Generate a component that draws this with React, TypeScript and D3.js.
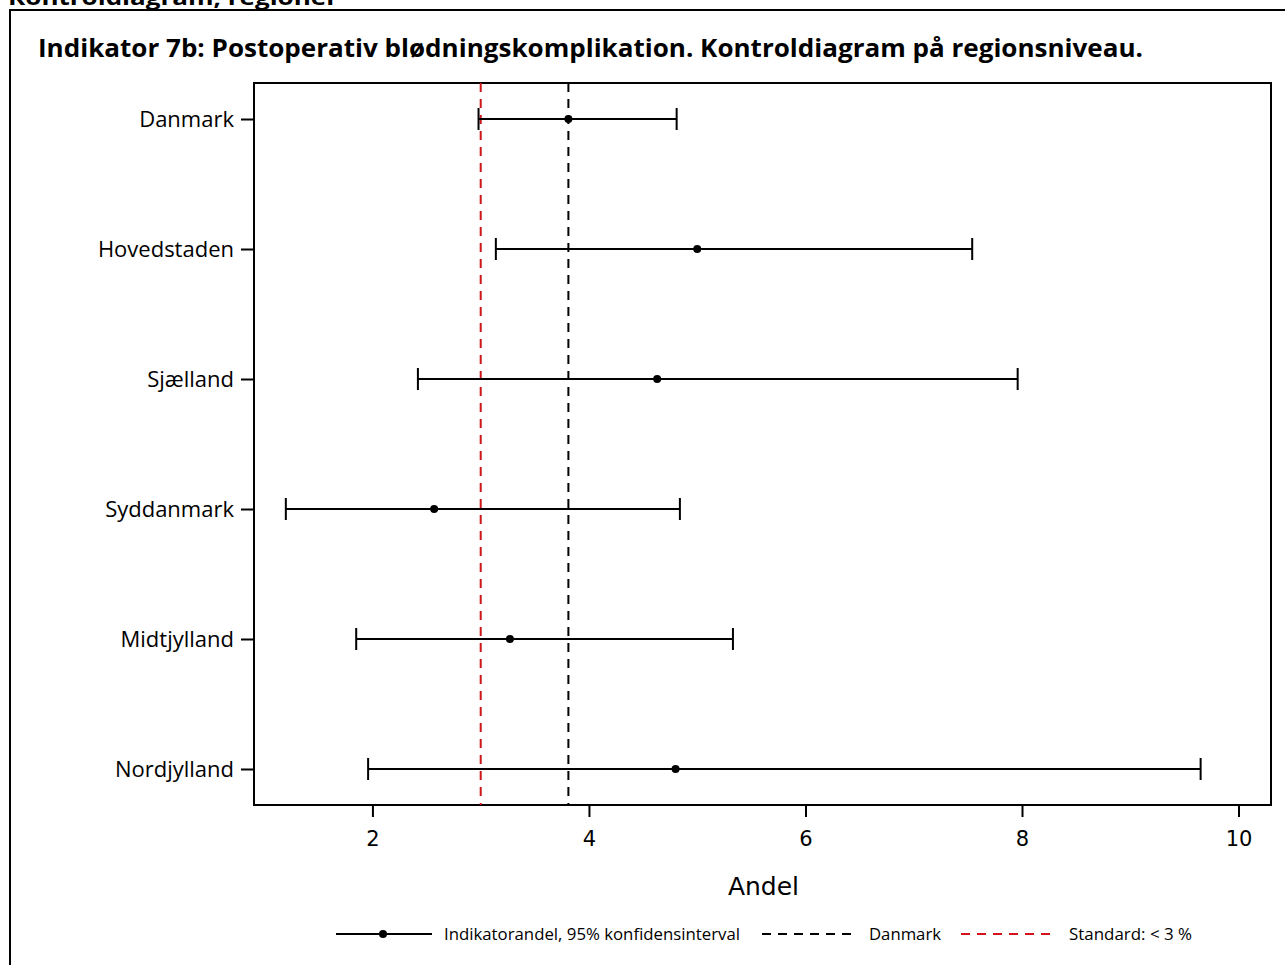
import React, { useEffect, useRef } from "react";
import * as d3 from "d3";

// Regions shown top to bottom
const regions = ["Danmark", "Hovedstaden", "Sjælland", "Syddanmark", "Midtjylland", "Nordjylland"];
// Indicator share (%) with 95% confidence limits
const shares = [3.81, 5.0, 4.63, 2.57, 3.27, 4.8];
const lowerCI = [2.98, 3.14, 2.42, 1.2, 1.85, 1.96];
const upperCI = [4.81, 7.54, 7.96, 4.84, 5.33, 9.65];
// Reference lines
const nationalLevel = 3.81;
const standardLevel = 3.0;
const xTicks = [2, 4, 6, 8, 10];

const W = 1285;
const H = 965;
const plot = { left: 254, right: 1271, top: 83, bottom: 805 };

export default function App() {
  const ref = useRef<SVGSVGElement | null>(null);

  useEffect(() => {
    const svg = d3.select(ref.current);
    svg.selectAll("*").remove();

    const x = d3.scaleLinear().domain([0.906, 10.3]).range([plot.left, plot.right]);
    const y = d3.scalePoint<string>().domain(regions).range([plot.top, plot.bottom]).padding(0.277);

    const body = "'Open Sans', 'DejaVu Sans', sans-serif";

    // Heading above the frame, partly clipped by the top edge
    svg.append("text")
      .attr("x", 8).attr("y", 5)
      .attr("font-family", body).attr("font-weight", 700).attr("font-size", 22)
      .attr("textLength", 330).attr("lengthAdjust", "spacingAndGlyphs")
      .text("Kontroldiagram, regioner");

    // Outer frame
    svg.append("rect")
      .attr("x", 10).attr("y", 10).attr("width", W + 10).attr("height", H + 10)
      .attr("fill", "none").attr("stroke", "#000").attr("stroke-width", 2);

    svg.append("text")
      .attr("x", 38).attr("y", 57)
      .attr("font-family", body).attr("font-weight", 700).attr("font-size", 25)
      .attr("textLength", 1105).attr("lengthAdjust", "spacingAndGlyphs")
      .text("Indikator 7b: Postoperativ blødningskomplikation. Kontroldiagram på regionsniveau.");

    // Plot frame
    svg.append("rect")
      .attr("x", plot.left).attr("y", plot.top)
      .attr("width", plot.right - plot.left).attr("height", plot.bottom - plot.top)
      .attr("fill", "none").attr("stroke", "#000").attr("stroke-width", 2);

    // Reference lines
    svg.append("line")
      .attr("x1", x(standardLevel)).attr("x2", x(standardLevel))
      .attr("y1", plot.top).attr("y2", plot.bottom)
      .attr("stroke", "#d0141a").attr("stroke-width", 2).attr("stroke-dasharray", "9,7");
    svg.append("line")
      .attr("x1", x(nationalLevel)).attr("x2", x(nationalLevel))
      .attr("y1", plot.top).attr("y2", plot.bottom)
      .attr("stroke", "#000").attr("stroke-width", 2).attr("stroke-dasharray", "9,7");

    // Error bars
    const g = svg.append("g");
    regions.forEach((r, i) => {
      const cy = y(r)!;
      g.append("line")
        .attr("x1", x(lowerCI[i])).attr("x2", x(upperCI[i]))
        .attr("y1", cy).attr("y2", cy)
        .attr("stroke", "#000").attr("stroke-width", 2);
      [lowerCI[i], upperCI[i]].forEach((v) => {
        g.append("line")
          .attr("x1", x(v)).attr("x2", x(v))
          .attr("y1", cy - 11).attr("y2", cy + 11)
          .attr("stroke", "#000").attr("stroke-width", 2);
      });
      g.append("circle").attr("cx", x(shares[i])).attr("cy", cy).attr("r", 4).attr("fill", "#000");
    });

    // Y axis
    const yAxis = d3.axisLeft(y).tickSize(13).tickPadding(7);
    const ya = svg.append("g").attr("transform", `translate(${plot.left},0)`).call(yAxis);
    ya.select(".domain").remove();
    ya.selectAll(".tick line").attr("stroke", "#000").attr("stroke-width", 2);
    ya.selectAll(".tick text")
      .attr("font-family", "'Open Sans', sans-serif").attr("font-size", 22).attr("fill", "#000");

    // X axis
    const xAxis = d3.axisBottom(x).tickValues(xTicks).tickFormat(d3.format("d")).tickSize(12).tickPadding(14);
    const xa = svg.append("g").attr("transform", `translate(0,${plot.bottom})`).call(xAxis);
    xa.select(".domain").remove();
    xa.selectAll(".tick line").attr("stroke", "#000").attr("stroke-width", 2);
    xa.selectAll(".tick text")
      .attr("font-family", "'DejaVu Sans', sans-serif").attr("font-size", 21).attr("fill", "#000");

    svg.append("text")
      .attr("x", (plot.left + plot.right) / 2 + 1).attr("y", 895)
      .attr("text-anchor", "middle")
      .attr("font-family", "'DejaVu Sans', sans-serif").attr("font-size", 25)
      .text("Andel");

    // Legend
    const ly = 934;
    const lg = svg.append("g").attr("font-family", "'Open Sans', sans-serif").attr("font-size", 16);
    lg.append("line").attr("x1", 336).attr("x2", 432).attr("y1", ly).attr("y2", ly)
      .attr("stroke", "#000").attr("stroke-width", 2);
    lg.append("circle").attr("cx", 383).attr("cy", ly).attr("r", 4).attr("fill", "#000");
    lg.append("text").attr("x", 444).attr("y", ly + 6)
      .attr("textLength", 296).attr("lengthAdjust", "spacingAndGlyphs")
      .text("Indikatorandel, 95% konfidensinterval");
    lg.append("line").attr("x1", 762).attr("x2", 856).attr("y1", ly).attr("y2", ly)
      .attr("stroke", "#000").attr("stroke-width", 2).attr("stroke-dasharray", "9,7");
    lg.append("text").attr("x", 869).attr("y", ly + 6)
      .attr("textLength", 72).attr("lengthAdjust", "spacingAndGlyphs")
      .text("Danmark");
    lg.append("line").attr("x1", 961).attr("x2", 1057).attr("y1", ly).attr("y2", ly)
      .attr("stroke", "#d0141a").attr("stroke-width", 2).attr("stroke-dasharray", "9,7");
    lg.append("text").attr("x", 1069).attr("y", ly + 6)
      .attr("textLength", 123).attr("lengthAdjust", "spacingAndGlyphs")
      .text("Standard: < 3 %");
  }, []);

  return (
    <svg
      ref={ref}
      width={W}
      height={H}
      style={{ position: "absolute", left: 0, top: 0, background: "#fff" }}
    />
  );
}
